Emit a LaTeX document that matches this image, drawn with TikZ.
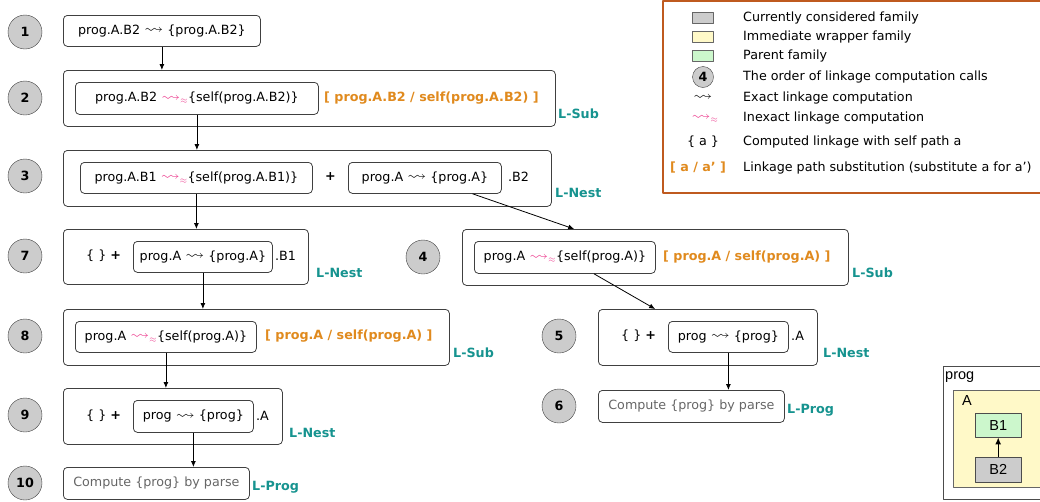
\documentclass[tikz,border=0pt]{standalone}
\usepackage{fontspec}
\usepackage{amssymb}
\setmainfont{DejaVu Sans}
\newfontfamily\arialfont{Liberation Sans}
\usetikzlibrary{calc, positioning}
\usetikzlibrary{arrows.meta}

\definecolor{stepgray}{HTML}{CCCCCC}
\definecolor{subst}{HTML}{E08A1E}
\definecolor{rulename}{HTML}{16938F}
\definecolor{inexactpink}{HTML}{EC3D8E}
\definecolor{legendframe}{HTML}{BF5A1F}
\definecolor{wrapper}{HTML}{FFF9C8}
\definecolor{parent}{HTML}{CCF7CC}
\definecolor{parsegray}{HTML}{666666}

\newcommand{\basefont}{\fontsize{12.7}{15}\selectfont}
\newcommand{\squig}{\raisebox{0.5pt}{\scalebox{1.5}[1.15]{$\rightsquigarrow$}}}
\newcommand{\exact}{\squig}
\newcommand{\inexact}{\textcolor{inexactpink}{\squig$_{\approx}$}}

\tikzset{
  order/.style={circle, draw=black!75, fill=stepgray, minimum size=34pt, inner sep=0pt, font=\basefont\bfseries},
  callbox/.style={draw=black!75, line width=0.8pt, rounded corners=4pt, anchor=north west, inner sep=0pt},
  rulelabel/.style={anchor=west, inner sep=0pt, text=rulename, font=\basefont\bfseries},
  substlabel/.style={anchor=west, inner sep=0pt, text=subst, font=\basefont\bfseries},
  plain/.style={anchor=west, inner sep=0pt},
  flow/.style={-{Latex[length=6pt,width=5pt]}, line width=0.8pt},
  famfont/.style={font=\arialfont\fontsize{14.5}{17}\selectfont},
}

\begin{document}
\begin{tikzpicture}[x=1pt, y=-1pt, font=\basefont, line join=round]
\useasboundingbox (0,0) rectangle (1040,501);
\clip (0,0) rectangle (1040,501);

% Order of the linkage computation calls
\node[order] (c1) at (25,32) {1};
\node[order] (c2) at (25,98) {2};
\node[order] (c3) at (25,176) {3};
\node[order] (c7) at (25,256) {7};
\node[order] (c8) at (25,336) {8};
\node[order] (c9) at (25,415) {9};
\node[order] (c10) at (25,483) {10};
\node[order] (c4) at (423,257) {4};
\node[order] (c5) at (559,336) {5};
\node[order] (c6) at (559,406) {6};

% Left column of calls
\node[callbox, minimum width=197pt, minimum height=31pt] (b1) at (63,15) {prog.A.B2 \exact{} \{prog.A.B2\}};

\node[callbox, minimum width=492pt, minimum height=56pt] (b2) at (63,70) {};
\node[callbox, minimum width=243pt, minimum height=32pt] (i2) at (75,82) {prog.A.B2 \inexact\{self(prog.A.B2)\}};
\node[substlabel] (s2) at (324,98) {[ prog.A.B2 / self(prog.A.B2) ]};
\node[rulelabel] (r2) at (558,114) {L-Sub};

\node[callbox, minimum width=488pt, minimum height=56pt] (b3) at (63,150) {};
\node[callbox, minimum width=232pt, minimum height=31pt] (i3a) at (80,162) {prog.A.B1 \inexact\{self(prog.A.B1)\}};
\node[plain, font=\basefont\bfseries] (p3) at (325,177) {+};
\node[callbox, minimum width=153pt, minimum height=31pt] (i3b) at (348,162) {prog.A \exact{} \{prog.A\}};
\node[plain] (n3) at (508,177) {.B2};
\node[rulelabel] (r3) at (555,193) {L-Nest};

\node[callbox, minimum width=245pt, minimum height=55pt] (b7) at (63,229) {};
\node[plain] (p7) at (86,256) {\{ \} \textbf{+}};
\node[callbox, minimum width=139pt, minimum height=31pt] (i7) at (133,241) {prog.A \exact{} \{prog.A\}};
\node[plain] (n7) at (275,256) {.B1};
\node[rulelabel] (r7) at (316,273) {L-Nest};

\node[callbox, minimum width=386pt, minimum height=56pt] (b8) at (63,309) {};
\node[callbox, minimum width=181pt, minimum height=31pt] (i8) at (75,321) {prog.A \inexact\{self(prog.A)\}};
\node[substlabel] (s8) at (265,336) {[ prog.A / self(prog.A) ]};
\node[rulelabel] (r8) at (453,353) {L-Sub};

\node[callbox, minimum width=219pt, minimum height=56pt] (b9) at (63,388) {};
\node[plain] (p9) at (86,416) {\{ \} \textbf{+}};
\node[callbox, minimum width=120pt, minimum height=32pt] (i9) at (133,400) {prog \exact{} \{prog\}};
\node[plain] (n9) at (256,416) {.A};
\node[rulelabel] (r9) at (289,433) {L-Nest};

\node[callbox, minimum width=186pt, minimum height=32pt, text=parsegray] (b10) at (63,467) {Compute \{prog\} by parse};
\node[rulelabel] (r10) at (252,487) {L-Prog};

% Right column of calls
\node[callbox, minimum width=386pt, minimum height=56pt] (b4) at (462,229) {};
\node[callbox, minimum width=181pt, minimum height=32pt] (i4) at (474,241) {prog.A \inexact\{self(prog.A)\}};
\node[substlabel] (s4) at (663,257) {[ prog.A / self(prog.A) ]};
\node[rulelabel] (r4) at (852,273) {L-Sub};

\node[callbox, minimum width=219pt, minimum height=56pt] (b5) at (598,309) {};
\node[plain] (p5) at (621,336) {\{ \} \textbf{+}};
\node[callbox, minimum width=120pt, minimum height=31pt] (i5) at (668,321) {prog \exact{} \{prog\}};
\node[plain] (n5) at (791,336) {.A};
\node[rulelabel] (r5) at (823,353) {L-Nest};

\node[callbox, minimum width=186pt, minimum height=32pt, text=parsegray] (b6) at (598,390) {Compute \{prog\} by parse};
\node[rulelabel] (r6) at (787,410) {L-Prog};

% Calls
\draw[flow] (b1.south) -- (b1.south |- b2.north);
\draw[flow] (i2.south) -- (i2.south |- b3.north);
\draw[flow] (i3a.south) -- (i3a.south |- b7.north);
\draw[flow] ($(i3b.south west)!0.81!(i3b.south east)$) -- ($(b4.north west)!0.29!(b4.north east)$);
\draw[flow] (i7.south) -- (i7.south |- b8.north);
\draw[flow] (i8.south) -- (i8.south |- b9.north);
\draw[flow] (i9.south) -- (i9.south |- b10.north);
\draw[flow] ($(i4.south west)!0.66!(i4.south east)$) -- ($(b5.north west)!0.26!(b5.north east)$);
\draw[flow] (i5.south) -- (i5.south |- b6.north);

% Legend
\draw[legendframe, line width=2pt] (663,1) rectangle (1046,193);
\node[draw=black!60, fill=stepgray, minimum width=21pt, minimum height=11pt, inner sep=0pt] (k1) at (703,18) {};
\node[draw=black!60, fill=wrapper, minimum width=21pt, minimum height=11pt, inner sep=0pt] (k2) at (703,37) {};
\node[draw=black!60, fill=parent, minimum width=21pt, minimum height=11pt, inner sep=0pt] (k3) at (703,56) {};
\node[circle, draw=black!75, fill=stepgray, minimum size=21pt, inner sep=0pt, font=\basefont\bfseries] (k4) at (703,77) {4};
\node (k5) at (703,98) {\exact};
\node (k6) at (705,119) {\inexact};
\node (k7) at (703,142) {\{ a \}};
\node[text=subst, font=\basefont\bfseries] (k8) at (698,168) {[ a / a’ ]};
\node[plain] (d1) at (743,18) {Currently considered family};
\node[plain] (d2) at (743,37) {Immediate wrapper family};
\node[plain] (d3) at (743,56) {Parent family};
\node[plain] (d4) at (743,77) {The order of linkage computation calls};
\node[plain] (d5) at (743,98) {Exact linkage computation};
\node[plain] (d6) at (743,118) {Inexact linkage computation};
\node[plain] (d7) at (743,142) {Computed linkage with self path a};
\node[plain] (d8) at (743,168) {Linkage path substitution (substitute a for a’)};

% Family nesting
\draw[black!70, line width=0.8pt] (943,366) rectangle (1050,499);
\node[anchor=base west, inner sep=0pt, famfont] (fprog) at (945,379) {prog};
\draw[black!60, fill=wrapper, line width=0.8pt] (953,390) rectangle (1040,487);
\node[anchor=base west, inner sep=0pt, famfont] (fA) at (962,405) {A};
\node[draw=black!70, fill=parent, anchor=north west, minimum width=46pt, minimum height=24pt, inner sep=0pt, famfont] (fB1) at (975,413) {B1};
\node[draw=black!70, fill=stepgray, anchor=north west, minimum width=46pt, minimum height=25pt, inner sep=0pt, famfont] (fB2) at (975,457) {B2};
\draw[-{Latex[length=7pt,width=6pt]}, line width=1.4pt] (fB2.north) -- (fB1.south);
\end{tikzpicture}
\end{document}
